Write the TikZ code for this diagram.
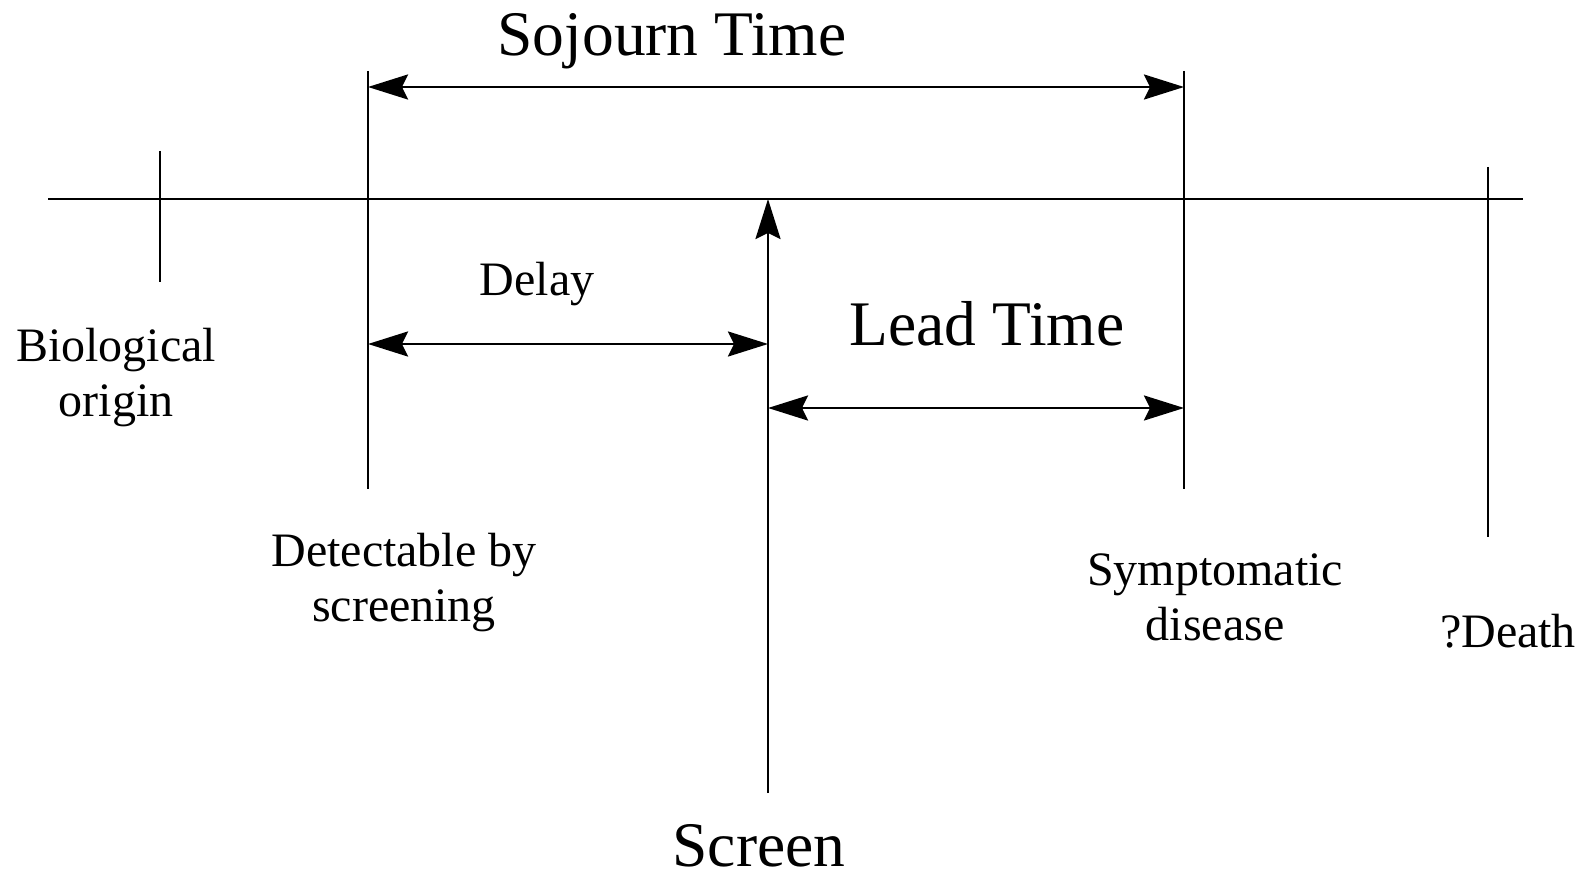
\documentclass[tikz,border=0pt]{standalone}
\usepackage{fontspec}
\setmainfont{Liberation Serif}
\usetikzlibrary{arrows.meta}
\begin{document}
\begin{tikzpicture}[x=1pt,y=-1pt,line width=2.6pt,
  head/.tip={Stealth[length=40pt,width=25pt,inset=6pt]},
  oneway/.style={-head},
  twoway/.style={head-head},
  small/.style={font=\fontsize{48}{55}\selectfont,align=center,inner sep=0pt,anchor=base},
  big/.style={font=\fontsize{63.5}{70}\selectfont,inner sep=0pt,anchor=base}]
\useasboundingbox (0,0) rectangle (1590,877);

% time axis
\coordinate (axisL) at (48,199);
\coordinate (axisR) at (1523,199);
\draw (axisL) -- (axisR);

% event markers
\coordinate (bioT) at (160,151);   \coordinate (bioB) at (160,282);
\coordinate (detT) at (368,71);    \coordinate (detB) at (368,489);
\coordinate (symT) at (1184,71);   \coordinate (symB) at (1184,489);
\coordinate (dthT) at (1488,167);  \coordinate (dthB) at (1488,537);
\draw (bioT) -- (bioB);
\draw (detT) -- (detB);
\draw (symT) -- (symB);
\draw (dthT) -- (dthB);

% screening moment
\coordinate (scrB) at (768,793);
\coordinate (scrT) at (768,199);
\draw[oneway] (scrB) -- (scrT);

% intervals
\coordinate (sojL) at (368,87);  \coordinate (sojR) at (1184,87);
\coordinate (dlyL) at (368,344); \coordinate (dlyR) at (768,344);
\coordinate (ldL) at (768,408);  \coordinate (ldR) at (1184,408);
\draw[twoway] (sojL) -- (sojR);
\draw[twoway] (dlyL) -- (dlyR);
\draw[twoway] (ldL) -- (ldR);

% labels (two-line labels are anchored at the baseline of their last line)
\node[big] (sojourn) at (672,56) {Sojourn Time};
\node[small] (delay) at (537,296) {Delay};
\node[big] (lead) at (987,345) {Lead Time};
\node[small] (bio) at (116,416) {Biological\\origin};
\node[small] (det) at (404,621) {Detectable by\\screening};
\node[small] (sym) at (1215,640) {Symptomatic\\disease};
\node[small] (death) at (1508,647) {?Death};
\node[big] (screen) at (759,866) {Screen};
\end{tikzpicture}
\end{document}
